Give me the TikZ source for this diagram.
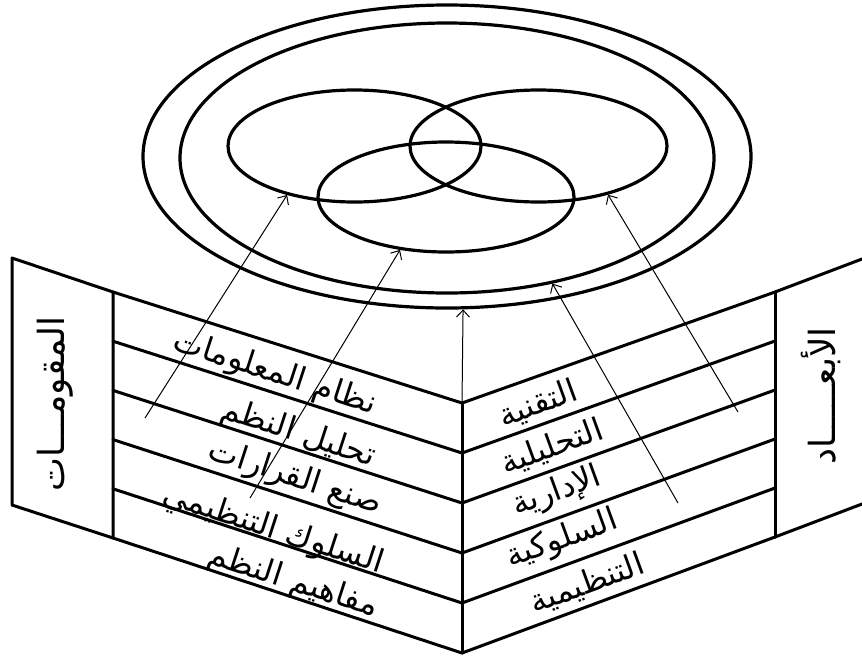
\documentclass[tikz,border=0pt]{standalone}
\usepackage{fontspec}
\newfontfamily\arabicfont[Script=Arabic]{DejaVu Sans}
\TeXXeTstate=1
\usetikzlibrary{shapes.geometric,arrows.meta}
\begin{document}
\begin{tikzpicture}[x=1pt,y=-1pt,
 ell/.style={draw, ellipse, line width=3.2pt, inner sep=0pt},
 edge/.style={line width=3pt, line join=round, line cap=round},
 arr/.style={line width=1pt, -{Straight Barb[length=7pt,width=13pt]}},
 lab/.style={font=\arabicfont\fontsize{32}{36}\selectfont, inner sep=0pt},
 plab/.style={font=\arabicfont\fontsize{36}{40}\selectfont, inner sep=0pt, rotate=90},
 ]
\useasboundingbox (0,0) rectangle (862,657);
% ellipses
\node[ell, minimum width=608pt, minimum height=303pt] (outer) at (447,156.5) {};
\node[ell, minimum width=534pt, minimum height=270pt] (second) at (447,158) {};
\node[ell, minimum width=253pt, minimum height=112pt] (eL) at (354.5,146) {};
\node[ell, minimum width=257pt, minimum height=112pt] (eR) at (538.5,146) {};
\node[ell, minimum width=256pt, minimum height=110pt] (eB) at (446,197) {};
% box coordinates
\foreach \i/\yl/\yc/\yr in {0/292/403/292, 1/341.2/453/341, 2/390.4/503/390, 3/439.6/553/439, 4/488.8/603/488, 5/538/653/537}{
  \coordinate (L\i) at (113,\yl);
  \coordinate (C\i) at (462,\yc);
  \coordinate (R\i) at (775,\yr);
}
\coordinate (PL1) at (12,258);
\coordinate (PL2) at (12,505);
\coordinate (PR1) at (862,259);
\coordinate (PR2) at (862,504);
\foreach \i in {0,...,5}{
  \draw[edge] (L\i) -- (C\i) -- (R\i);
}
\draw[edge] (L0) -- (PL1) -- (PL2) -- (L5) -- cycle;
\draw[edge] (R0) -- (PR1);
\draw[edge] (R5) -- (PR2);
\draw[edge] (R0) -- (R5);
\draw[edge] (C0) -- (C5);
% arrow starts
\coordinate (a1) at (145,418);
\coordinate (a2) at (250,498);
\coordinate (a4) at (678,503);
\coordinate (a5) at (738,412);
\draw[arr] (a1) -- (eL.-144);
\draw[arr] (a2) -- (eB.-131);
\draw[arr] (C0) -- (outer.-84.3);
\draw[arr] (a4) -- (second.-50.2);
\draw[arr] (a5) -- (eR.-35.4);
% left labels
\node[lab, rotate=-18] (l1) at (275,374) {\beginR نظام المعلومات\endR};
\node[lab, rotate=-18] (l2) at (298,434) {\beginR تحليل النظم\endR};
\node[lab, rotate=-18] (l3) at (295,478) {\beginR صنع القرارات\endR};
\node[lab, rotate=-18] (l4) at (273,530) {\beginR السلوك التنظيمي\endR};
\node[lab, rotate=-18] (l5) at (293,582) {\beginR مفاهيم النظم\endR};
% right labels
\node[lab, rotate=20] (r1) at (538,404) {\beginR التقنية\endR};
\node[lab, rotate=20] (r2) at (552,447) {\beginR التحليلية\endR};
\node[lab, rotate=20] (r3) at (557,492) {\beginR الإدارية\endR};
\node[lab, rotate=20] (r4) at (562,540) {\beginR السلوكية\endR};
\node[lab, rotate=20] (r5) at (587,584) {\beginR التنظيمية\endR};
% panel labels
\node[plab] (pl) at (55,404) {\beginR المقومـــات\endR};
\node[plab] (pr) at (821,396) {\beginR الأبعـــــاد\endR};
\end{tikzpicture}
\end{document}
